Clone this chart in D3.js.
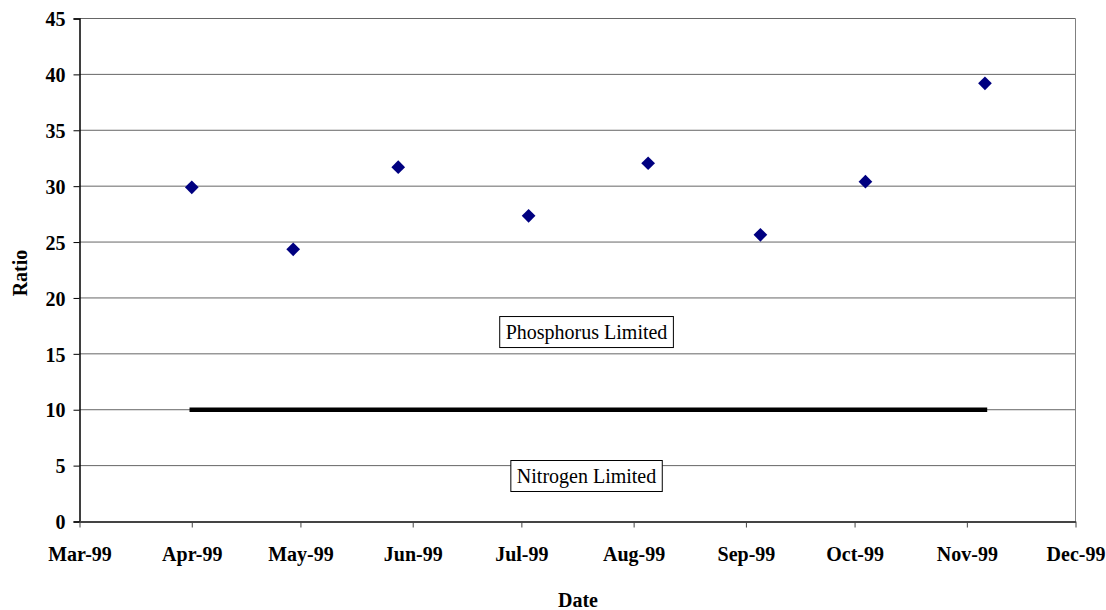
<!DOCTYPE html>
<html>
<head>
<meta charset="utf-8">
<script src="https://cdn.jsdelivr.net/npm/d3@7"></script>
<style>
  body { margin:0; background:#fff; }
  svg { display:block; font-family:"Liberation Serif","Times New Roman",serif; }
  .tick text { font-weight:bold; font-size:20px; fill:#000; }
</style>
</head>
<body>
<div id="chart"></div>
<script>
// sample dates and N:P ratios
const DATES  = ["1999-04-01","1999-04-29","1999-05-28","1999-07-03","1999-08-05","1999-09-05","1999-10-04","1999-11-06"];
const RATIOS = [29.9, 24.35, 31.7, 27.35, 32.05, 25.65, 30.4, 39.2];
const THRESHOLD = 10;
const X_TICKS = ["1999-03-01","1999-04-01","1999-05-01","1999-06-01","1999-07-01","1999-08-01","1999-09-01","1999-10-01","1999-11-01","1999-12-01"];
const Y_TICKS = [0,5,10,15,20,25,30,35,40,45];
const LABELS = [{text:"Phosphorus Limited", y:16.95}, {text:"Nitrogen Limited", y:4.07}];
const LABEL_DATE = "1999-07-19";

const W = 1106, H = 610;
const MG = {t:18.5, r:30.5, b:88.5, l:79.5};
const iW = W-MG.l-MG.r, iH = H-MG.t-MG.b;
const parse = d3.utcParse("%Y-%m-%d");

const svg = d3.select("#chart").append("svg").attr("width",W).attr("height",H);
const g = svg.append("g").attr("transform",`translate(${MG.l},${MG.t})`);

const x = d3.scaleUtc().domain([parse(X_TICKS[0]), parse(X_TICKS[X_TICKS.length-1])]).range([0,iW]);
const y = d3.scaleLinear().domain([0,45]).range([iH,0]);

// gridlines
g.selectAll(".grid").data(Y_TICKS.filter(v=>v>0)).join("line")
  .attr("x1",0).attr("x2",iW).attr("y1",d=>y(d)).attr("y2",d=>y(d))
  .attr("stroke","#666").attr("stroke-width",1);

// right border
g.append("line").attr("x1",iW).attr("x2",iW).attr("y1",0).attr("y2",iH)
  .attr("stroke","#808080").attr("stroke-width",1);

// y axis
const ya = g.append("g").call(d3.axisLeft(y).tickValues(Y_TICKS).tickSize(6).tickPadding(8))
  .attr("font-family",null).attr("font-size",null);
ya.select(".domain").attr("stroke","#000").attr("stroke-width",1.5);
ya.selectAll(".tick line").attr("stroke","#000");
ya.selectAll(".tick text").attr("dy","0.36em");

// x axis
const xa = g.append("g").attr("transform",`translate(0,${iH})`)
  .call(d3.axisBottom(x).tickValues(X_TICKS.map(parse)).tickFormat(d3.utcFormat("%b-%y")).tickSize(6).tickPadding(19).tickSizeOuter(0))
  .attr("font-family",null).attr("font-size",null);
xa.select(".domain").attr("stroke","#444").attr("stroke-width",2);
xa.selectAll(".tick line").attr("stroke","#444");

// threshold line
const pts = DATES.map((d,i)=>({date:parse(d), v:RATIOS[i]}));
const ext = d3.extent(pts, p=>p.date);
g.append("line")
  .attr("x1",x(ext[0])).attr("x2",x(ext[1])).attr("y1",y(THRESHOLD)).attr("y2",y(THRESHOLD))
  .attr("stroke","#000").attr("stroke-width",4.5).attr("stroke-linecap","square");

// labels in boxes
LABELS.forEach(l=>{
  const cx = x(parse(LABEL_DATE));
  const lg = g.append("g");
  const r = lg.append("rect");
  const t = lg.append("text").attr("x",cx).attr("y",y(l.y)).attr("text-anchor","middle")
    .attr("font-size",20).attr("dy","0.35em").text(l.text);
  const bb = t.node().getBBox();
  r.attr("x",bb.x-6).attr("y",y(l.y)-15.5).attr("width",bb.width+12).attr("height",31)
    .attr("fill","#fff").attr("stroke","#000").attr("stroke-width",1);
});

// markers
g.selectAll(".pt").data(pts).join("path")
  .attr("d", d3.symbol().type(d3.symbolDiamond2).size(120))
  .attr("transform",p=>`translate(${x(p.date)},${y(p.v)})`)
  .attr("fill","#000080");

// axis titles
svg.append("text").attr("x",578).attr("y",607).attr("text-anchor","middle")
  .attr("font-weight","bold").attr("font-size",20).text("Date");
svg.append("text").attr("transform",`translate(27,${MG.t+iH/2 + 3}) rotate(-90)`)
  .attr("text-anchor","middle").attr("font-weight","bold").attr("font-size",20).text("Ratio");
</script>
</body>
</html>
